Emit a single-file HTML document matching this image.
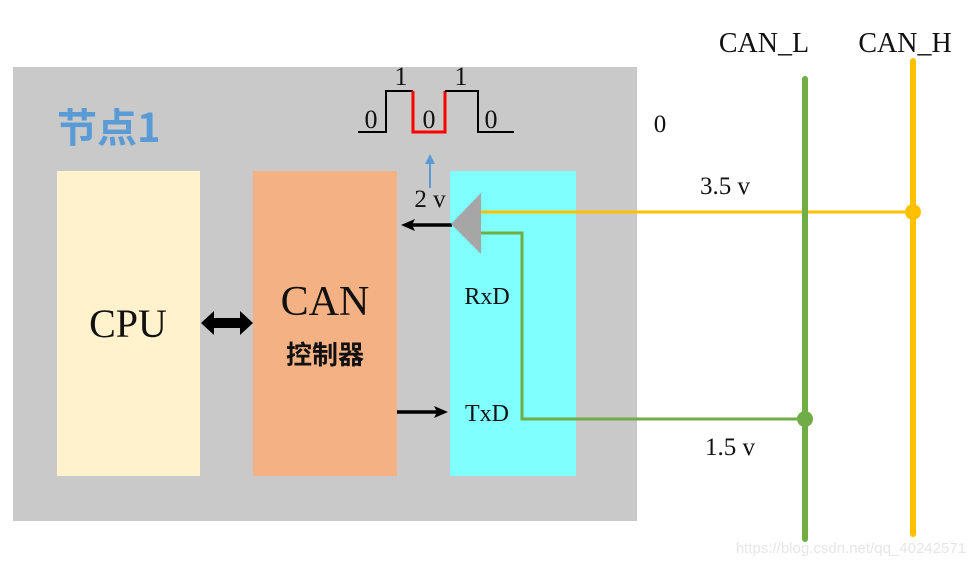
<!DOCTYPE html>
<html><head><meta charset="utf-8"><style>
html,body{margin:0;padding:0;background:#fff;}
svg{display:block;}
text{font-family:"Liberation Serif","Noto Serif CJK SC",serif;fill:#111;}
</style></head><body>
<svg width="973" height="567" viewBox="0 0 973 567" xmlns="http://www.w3.org/2000/svg">
<defs>
<marker id="ah" markerWidth="14" markerHeight="14" refX="10" refY="7" orient="auto" markerUnits="userSpaceOnUse"><path d="M0,1 L14,7 L0,13 L3,7 Z" fill="#000"/></marker>
<marker id="ab" markerWidth="10" markerHeight="10" refX="6" refY="5" orient="auto" markerUnits="userSpaceOnUse"><path d="M0,0 L10,5 L0,10 Z" fill="#5b9bd5"/></marker>
</defs>
<rect x="13" y="67" width="624" height="454" fill="#c9c9c9"/>
<text x="57" y="142" font-size="40" fill="#5b9bd5" style="fill:#5b9bd5;font-family:'Noto Sans CJK SC',sans-serif;font-weight:bold">节点1</text>
<rect x="57" y="171" width="143" height="305" fill="#fff2cc"/>
<rect x="253" y="171" width="144" height="305" fill="#f4b183"/>
<rect x="450" y="171" width="126" height="305" fill="#80ffff"/>
<text x="128" y="337" font-size="40" text-anchor="middle">CPU</text>
<text x="325" y="315" font-size="42" text-anchor="middle">CAN</text>
<text x="325" y="364" font-size="26" text-anchor="middle" style="font-family:'Noto Sans CJK SC',sans-serif;font-weight:bold">控制器</text>
<text x="487" y="304" font-size="24" text-anchor="middle">RxD</text>
<text x="487" y="421" font-size="24" text-anchor="middle">TxD</text>
<path d="M201,323 L214,311 L214,318 L240,318 L240,311 L253,323 L240,335 L240,328 L214,328 L214,335 Z" fill="#000"/>
<polyline points="358,132 386,132 386,91 413,91" fill="none" stroke="#000" stroke-width="2"/>
<polyline points="413,91 413,132 445,132 445,91" fill="none" stroke="#f00" stroke-width="3"/>
<polyline points="445,91 478,91 478,132 514,132" fill="none" stroke="#000" stroke-width="2"/>
<text x="371" y="128" font-size="26" text-anchor="middle">0</text>
<text x="401" y="85" font-size="26" text-anchor="middle">1</text>
<text x="429" y="128" font-size="26" text-anchor="middle">0</text>
<text x="461" y="85" font-size="26" text-anchor="middle">1</text>
<text x="491" y="128" font-size="26" text-anchor="middle">0</text>
<line x1="430" y1="188" x2="430" y2="158" stroke="#5b9bd5" stroke-width="2" marker-end="url(#ab)"/>
<text x="430" y="207" font-size="25" text-anchor="middle">2 v</text>
<text x="660" y="132" font-size="25" text-anchor="middle">0</text>
<text x="725" y="194" font-size="25" text-anchor="middle">3.5 v</text>
<text x="730" y="455" font-size="25" text-anchor="middle">1.5 v</text>
<text x="764" y="52" font-size="28" text-anchor="middle">CAN_L</text>
<text x="905" y="52" font-size="28" text-anchor="middle">CAN_H</text>
<line x1="452" y1="225" x2="405" y2="225" stroke="#000" stroke-width="3.5" marker-end="url(#ah)"/>
<line x1="397" y1="412" x2="444" y2="412" stroke="#000" stroke-width="3.5" marker-end="url(#ah)"/>
<line x1="481" y1="212" x2="913" y2="212" stroke="#ffc000" stroke-width="3"/>
<polyline points="481,233 522,233 522,419 805,419" fill="none" stroke="#70ad47" stroke-width="3"/>
<line x1="805" y1="79" x2="805" y2="539" stroke="#70ad47" stroke-width="6" stroke-linecap="round"/>
<line x1="913" y1="61" x2="913" y2="534" stroke="#ffc000" stroke-width="6" stroke-linecap="round"/>
<circle cx="913" cy="212" r="8" fill="#ffc000"/>
<circle cx="805" cy="419" r="8" fill="#70ad47"/>
<polygon points="451,224 481,193 481,254" fill="#a6a6a6"/>
<text x="966" y="553" font-size="15" text-anchor="end" style="font-family:'Liberation Sans',sans-serif;fill:#e6e6e6">https://blog.csdn.net/qq_40242571</text>
</svg>
</body></html>
